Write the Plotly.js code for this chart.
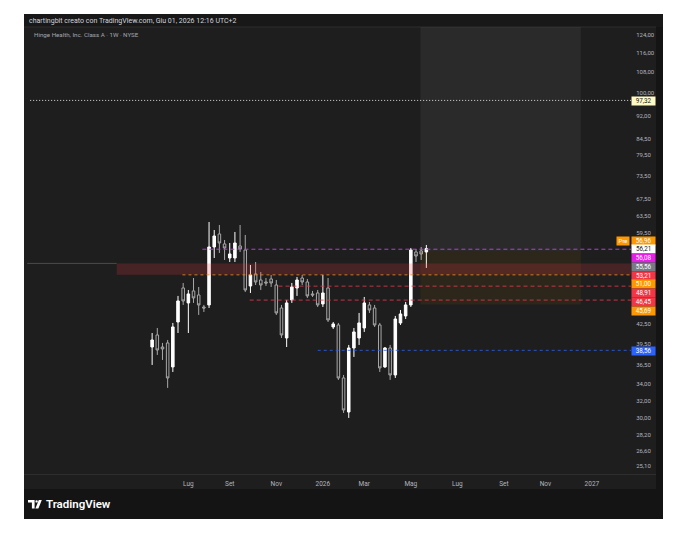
<!DOCTYPE html>
<html>
<head>
<meta charset="utf-8">
<script src="https://cdn.plot.ly/plotly-3.0.1.min.js"></script>
<style>
html,body{margin:0;padding:0;background:#ffffff;overflow:hidden;}
#chart{width:680px;height:533px;}
</style>
</head>
<body>
<div id="chart"></div>
<script>
// ---------------- DATA ----------------
const weeks = [
 '2025-05-19','2025-05-26','2025-06-02','2025-06-09','2025-06-16','2025-06-23','2025-06-30',
 '2025-07-07','2025-07-14','2025-07-21','2025-07-28','2025-08-04','2025-08-11','2025-08-18','2025-08-25',
 '2025-09-01','2025-09-08','2025-09-15','2025-09-22','2025-09-29','2025-10-06','2025-10-13','2025-10-20','2025-10-27',
 '2025-11-03','2025-11-10','2025-11-17','2025-11-24','2025-12-01','2025-12-08','2025-12-15','2025-12-22','2025-12-29',
 '2026-01-05','2026-01-12','2026-01-19','2026-01-26','2026-02-02','2026-02-09','2026-02-16','2026-02-23',
 '2026-03-02','2026-03-09','2026-03-16','2026-03-23','2026-03-30','2026-04-06','2026-04-13','2026-04-20','2026-04-27',
 '2026-05-04','2026-05-11','2026-05-18','2026-05-25'
];
const openP  = [39.04,40.82,39.04,39.63,36.26,42.83,48.58,45.96,48.05,47.34,45.28,45.62,56.55,59.34,57.18,54.29,54.29,56.76,55.92,48.94,51.17,50.04,49.67,50.23,49.12,45.11,40.37,46.47,48.58,50.41,49.67,47.52,47.69,45.79,48.58,42.05,42.36,34.81,30.69,38.90,40.37,41.89,45.62,45.11,42.36,36.26,38.90,35.20,42.68,43.80,45.62,55.51,55.72,55.51];
const highP  = [41.12,41.89,39.63,40.07,42.68,47.17,49.49,48.22,50.41,48.76,45.62,62.03,60.22,61.35,58.03,57.39,59.78,61.35,59.12,52.90,53.49,51.55,50.41,50.98,50.04,45.62,46.47,49.49,50.60,50.98,50.23,48.05,48.22,50.98,50.41,42.83,42.68,35.20,39.34,41.89,44.29,46.99,46.13,45.62,42.68,39.04,39.34,43.80,44.78,46.13,56.34,56.13,56.55,56.97];
const lowP   = [36.53,37.91,37.21,33.55,35.59,41.12,45.62,41.12,45.96,43.96,44.45,45.11,54.29,55.31,53.89,53.49,53.49,55.51,47.87,47.69,49.12,48.22,48.94,48.76,43.96,40.37,39.04,45.96,47.17,49.12,46.82,46.99,45.28,45.28,42.83,41.74,34.56,30.58,30.02,37.63,39.34,41.28,44.29,42.05,35.59,36.13,34.56,34.81,42.36,43.31,45.28,53.49,53.89,52.32];
const closeP = [40.07,38.61,38.76,34.81,42.05,46.30,46.30,47.52,46.82,45.62,45.11,56.55,58.90,57.39,56.34,55.10,57.39,56.13,48.22,50.98,49.67,49.12,49.49,49.49,44.29,40.82,45.96,48.76,50.04,49.67,47.17,47.34,45.62,47.69,43.15,42.52,34.81,30.92,38.90,41.28,42.68,45.96,44.78,42.36,36.13,38.90,35.20,43.31,44.12,45.62,55.92,54.69,55.10,56.21];

const timeTickDates  = ['2025-07-07','2025-09-01','2025-11-03','2026-01-05','2026-03-02','2026-05-04','2026-07-06','2026-09-07','2026-11-02','2027-01-04'];
const timeTickLabels = ['Lug','Set','Nov','2026','Mar','Mag','Lug','Set','Nov','2027'];
const priceTicks = [124,116,108,100,92,84.5,79.5,73.5,67.5,63.5,59.5,42.5,39.5,36.5,34,32,30,28.2,26.6,25.1];

// horizontal rays drawn on the chart
const rayPrices = [97.32, 56.08, 51.00, 48.91, 46.45, 38.56];
const rayStarts = ['2024-12-05','2025-07-26','2025-06-29','2025-11-06','2025-09-28','2025-12-29'];
// shaded band
const bandTop = 53.21, bandBottom = 51.00, bandStart = '2025-04-01', bandLineStart = '2024-12-01';
// projection zone
const zoneStart = '2026-05-17', zoneEnd = '2026-12-20';
const zoneMid = 55.56, zoneLow = 45.69;
// price-scale tags
const tagPrices = [56.96, 56.21, 56.08, 55.56, 53.21, 51.00, 48.91, 46.45, 45.69, 38.56, 97.32];

// ---------------- STYLE / LAYOUT ----------------
const X0 = '2024-11-28', X1 = '2027-02-25 21:00';
const YMIN = 24.39, YMAX = 127.73;
const PL = 25, PR = 631, PT = 27, PB = 474;
const PW = PR - PL, PH = PB - PT;
const BG = '#1e1e1e';
const FONT = 'Roboto, "Liberation Sans", Arial, sans-serif';

const rayColors = ['rgba(255,255,255,0.85)','#b73fd6','rgba(230,140,30,0.85)','rgba(220,60,75,0.85)','rgba(220,60,75,0.85)','rgba(41,98,255,0.8)'];
const rayDash   = ['1px,2px','4px,3px','3px,3px','4px,3px','4px,3px','3px,3px'];
const tagBg = ['#ff9800','#ffffff','#e61ee6','#787b86','#f23645','#ff9800','#f23645','#f23645','#ff9800','#2962ff','#fff9c4'];
const tagFg = ['#ffffff','#131722','#ffffff','#ffffff','#ffffff','#ffffff','#ffffff','#ffffff','#ffffff','#ffffff','#131722'];

function px(x){ return (x - PL) / PW; }
function py(y){ return (PB - y) / PH; }
function P(x,y){ return px(x).toFixed(5) + ',' + py(y).toFixed(5); }
function priceToPy(v){
  const a = Math.log10(YMAX), b = Math.log10(YMIN);
  return PT + (a - Math.log10(v)) / (a - b) * PH;
}
const fmt = v => v.toFixed(2).replace('.', ',');

const traces = [];
// zone rectangles
traces.push({type:'scatter', mode:'lines', x:[zoneStart,zoneEnd,zoneEnd,zoneStart,zoneStart],
  y:[zoneMid,zoneMid,YMAX,YMAX,zoneMid], fill:'toself', fillcolor:'rgba(255,255,255,0.055)',
  line:{width:0}, hoverinfo:'skip'});
traces.push({type:'scatter', mode:'lines', x:[zoneStart,zoneEnd,zoneEnd,zoneStart,zoneStart],
  y:[zoneLow,zoneLow,zoneMid,zoneMid,zoneLow], fill:'toself', fillcolor:'rgba(255,152,0,0.07)',
  line:{width:0}, hoverinfo:'skip'});
// band
traces.push({type:'scatter', mode:'lines', x:[bandStart,X1,X1,bandStart,bandStart],
  y:[bandBottom,bandBottom,bandTop,bandTop,bandBottom], fill:'toself', fillcolor:'rgba(242,54,69,0.2)',
  line:{width:0}, hoverinfo:'skip'});
traces.push({type:'scatter', mode:'lines', x:[bandLineStart,bandStart], y:[bandTop,bandTop],
  line:{width:1,color:'rgba(150,120,125,0.45)'}, hoverinfo:'skip'});
// rays
rayPrices.forEach((p,i) => {
  traces.push({type:'scatter', mode:'lines', x:[rayStarts[i], X1], y:[p,p],
    line:{width:1, color:rayColors[i], dash:rayDash[i]}, hoverinfo:'skip'});
});
// candles
traces.push({type:'candlestick', x:weeks, open:openP, high:highP, low:lowP, close:closeP,
  increasing:{line:{color:'#ffffff', width:1}, fillcolor:'#ffffff'},
  decreasing:{line:{color:'#a8a8a8', width:1}, fillcolor:'rgba(0,0,0,0)'},
  whiskerwidth:0, hoverinfo:'skip'});

// ---- shapes (panel) ----
const shapes = [
  {type:'rect', xref:'paper', yref:'paper', x0:px(24), x1:px(663), y0:py(519), y1:py(14), fillcolor:'#141414', line:{width:0}, layer:'below'},
  {type:'rect', xref:'paper', yref:'paper', x0:px(24), x1:px(656), y0:py(489), y1:py(27), fillcolor:BG, line:{width:0}, layer:'below'},
  {type:'rect', xref:'paper', yref:'paper', x0:px(24), x1:px(663), y0:py(27), y1:py(14), fillcolor:'#181818', line:{width:0}, layer:'below'},
  {type:'line', xref:'paper', yref:'paper', x0:px(24), x1:px(656), y0:py(27), y1:py(27), line:{width:1,color:'#2c2c2c'}, layer:'below'},
  {type:'line', xref:'paper', yref:'paper', x0:px(24), x1:px(656), y0:py(474.5), y1:py(474.5), line:{width:1,color:'#2e2e2e'}, layer:'below'},
  // TradingView logo mark
  {type:'path', xref:'paper', yref:'paper', path:'M'+P(28,500)+' L'+P(34.6,500)+' L'+P(34.6,508.6)+' L'+P(31.9,508.6)+' L'+P(31.9,502.6)+' L'+P(28,502.6)+' Z', fillcolor:'#ffffff', line:{width:0}},
  {type:'circle', xref:'paper', yref:'paper', x0:px(35.4), x1:px(37.8), y0:py(502.6), y1:py(500.2), fillcolor:'#ffffff', line:{width:0}},
  {type:'path', xref:'paper', yref:'paper', path:'M'+P(38.8,500)+' L'+P(41.8,500)+' L'+P(38.4,508.6)+' L'+P(35.4,508.6)+' Z', fillcolor:'#ffffff', line:{width:0}}
];

// ---- annotations ----
const annotations = [
  {xref:'paper', yref:'paper', x:px(27), y:py(20.5), xanchor:'left', yanchor:'middle', showarrow:false,
   text:'chartingbit creato con TradingView.com, Giu 01, 2026 12:16 UTC+2', font:{family:FONT, size:7, color:'#d1d4dc'}},
  {xref:'paper', yref:'paper', x:px(32), y:py(35.5), xanchor:'left', yanchor:'middle', showarrow:false,
   text:'Hinge Health, Inc. Class A · 1W · NYSE', font:{family:FONT, size:6.2, color:'#a3a6af'}},
  {xref:'paper', yref:'paper', x:px(44), y:py(504.5), xanchor:'left', yanchor:'middle', showarrow:false,
   text:'TradingView', font:{family:FONT, size:11.5, color:'#ffffff', weight:600}}
];

// stacked price tags
const TAGH = 8.75, TAGSHIFT = 0.8;
const items = tagPrices.map((v,i) => ({i, want: priceToPy(v)})).sort((a,b) => a.want - b.want);
const groups = [];
items.forEach(it => {
  const g = groups[groups.length-1];
  if (g && it.want < g.pos[g.pos.length-1] + TAGH) { g.items.push(it); g.pos.push(g.pos[g.pos.length-1] + TAGH); }
  else groups.push({items:[it], pos:[it.want]});
});
const tagY = {};
groups.forEach(g => {
  const n = g.items.length;
  const over = g.pos[n-1] - g.items[n-1].want;
  const shift = over > 0 ? over/2 : 0;
  g.items.forEach((it,k) => { tagY[it.i] = g.pos[k] - shift + TAGSHIFT; });
});
tagPrices.forEach((v,i) => {
  annotations.push({xref:'paper', yref:'paper', x:1, xanchor:'left', y:py(tagY[i]), yanchor:'middle',
    showarrow:false, text:fmt(v), width:22, height:6.6, borderpad:0.6, bgcolor:tagBg[i],
    font:{family:FONT, size:6.3, color:tagFg[i]}, align:'center'});
});
// "Pre" marker next to the pre-market tag
annotations.push({xref:'paper', yref:'paper', x:1, xanchor:'right', xshift:-1, y:py(tagY[0]), yanchor:'middle',
  showarrow:false, text:'Pre', width:11, height:6.6, borderpad:0.6, bgcolor:tagBg[0],
  font:{family:FONT, size:6, color:'#ffffff'}, align:'center'});

const layout = {
  width:680, height:533,
  margin:{l:PL, r:680-PR, t:PT, b:533-PB, pad:0},
  paper_bgcolor:'#ffffff', plot_bgcolor:BG,
  showlegend:false,
  font:{family:FONT},
  xaxis:{type:'date', range:[X0,X1], tickvals:timeTickDates, ticktext:timeTickLabels,
    showgrid:false, zeroline:false, showline:false, ticks:'outside', ticklen:3, tickcolor:'rgba(0,0,0,0)',
    tickfont:{family:FONT, size:6.5, color:'#b2b5be'}, rangeslider:{visible:false}, fixedrange:true},
  yaxis:{type:'log', side:'right', range:[Math.log10(YMIN), Math.log10(YMAX)],
    tickvals:priceTicks, ticktext:priceTicks.map(fmt),
    showgrid:false, zeroline:false, showline:false, ticks:'outside', ticklen:3, tickcolor:'rgba(0,0,0,0)',
    tickfont:{family:FONT, size:6, color:'#b2b5be'}, fixedrange:true},
  shapes, annotations
};

Plotly.newPlot('chart', traces, layout, {staticPlot:true, displayModeBar:false});
</script>
</body>
</html>
